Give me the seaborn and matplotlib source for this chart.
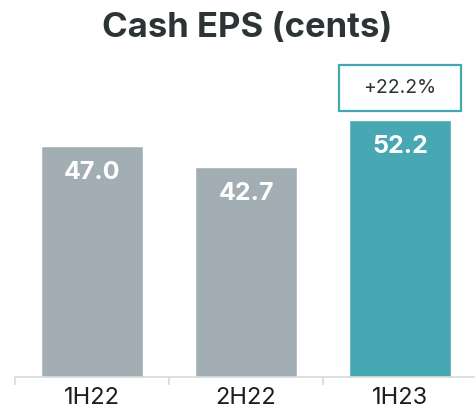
import matplotlib
matplotlib.use("Agg")
import matplotlib.pyplot as plt
import seaborn as sns
from matplotlib.patches import Rectangle

# chart data
periods = ["1H22", "2H22", "1H23"]
eps = [47.0, 42.7, 52.2]
bar_colors = ["#a2aeb4", "#a2aeb4", "#47a7b3"]
growth_label = "+22.2%"

sns.set_theme(style="white")
plt.rcParams['font.family'] = ['Inter', 'DejaVu Sans']

dark = "#2d3436"
teal = "#47a7b3"

fig = plt.figure(figsize=(4.75, 4.15), dpi=100)
ax = fig.add_axes([15 / 475, 38 / 415, 462 / 475, 315 / 415])

sns.barplot(x=periods, y=eps, hue=periods, palette=bar_colors,
            width=0.66, legend=False, ax=ax, saturation=1)

ax.set_xlim(-0.5, 2.5)
ax.set_ylim(0, 64)

# value labels inside the bars
for i, v in enumerate(eps):
    ax.text(i, v - 5.4, f"{v:.1f}", ha="center", va="center",
            color="white", fontsize=18, fontweight="bold")

# growth box above the last bar
ax.add_patch(Rectangle((2 - 0.393, 54.1), 0.786, 9.3, fill=False,
                       edgecolor=teal, linewidth=1.6, clip_on=False))
ax.text(2, 58.75, growth_label, ha="center", va="center",
        color=dark, fontsize=14)

# axes styling
for s in ["top", "right", "left"]:
    ax.spines[s].set_visible(False)
ax.spines["bottom"].set_color("#d3dbdb")
ax.spines["bottom"].set_linewidth(1.2)
ax.set_yticks([])
ax.set_ylabel("")
ax.set_xlabel("")
ax.set_xticks([-0.5, 0.5, 1.5, 2.5], minor=True)
ax.tick_params(axis="x", which="minor", bottom=True, length=6,
               color="#d3dbdb", width=1.2, direction="out")
ax.tick_params(axis="x", which="major", length=0, pad=7,
               labelsize=17, labelcolor="#1e1e1e")

fig.text(247 / 475, 1 - 28 / 415, "Cash EPS (cents)", ha="center",
         va="center", fontsize=25, fontweight="bold", color=dark)

fig.savefig("out.png", dpi=100)
